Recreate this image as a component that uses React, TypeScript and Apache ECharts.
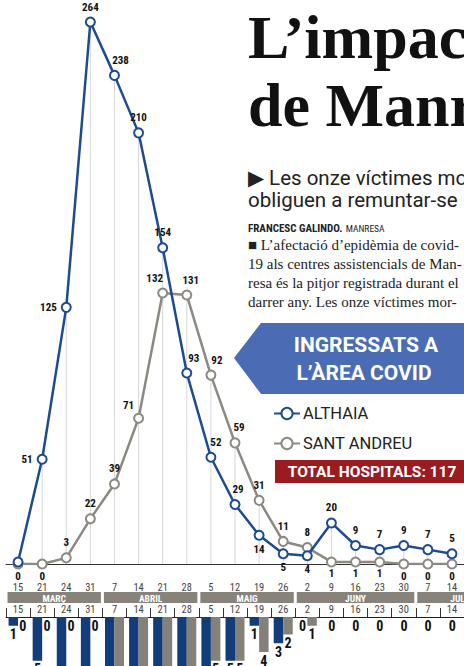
import React, { useEffect, useRef } from "react";
import * as echarts from "echarts";

const dates = ["15", "21", "24", "31", "7", "14", "21", "28", "5", "12", "19", "26", "2", "9", "16", "23", "30", "7", "14"];
const althaia = [1, 51, 125, 264, 238, 210, 154, 93, 52, 29, 14, 5, 4, 20, 9, 7, 9, 7, 5];
const santAndreu = [0, 0, 3, 22, 39, 71, 132, 131, 92, 59, 31, 11, 8, 1, 1, 1, 0, 0, 0];
const weeklyAlthaia = [1, 5, 8, 10, 13, 12, 10, 9, 7, 5, 1, 3, 0, 0, 0, 0, 0, 0, 0];
const weeklySantAndreu = [0, 0, 0, 0, 9, 10, 9, 8, 5, 5, 4, 2, 1, 0, 0, 0, 0, 0, 0];
const months = ["MARÇ", "ABRIL", "MAIG", "JUNY", "JULIOL"];
const monthStart = [0, 4, 8, 12, 17];
const monthWeeks = [4, 4, 4, 5, 4];

// label placement (style only)
const althaiaLabelPos = ["none", "left", "left", "top", "top", "top", "top", "top", "top", "top", "bottom", "bottom", "bottom", "top", "top", "top", "top", "top", "top"];
const althaiaLabelOffset: number[][] = [[0, 0], [0, 0], [0, 0], [0, 0], [6, 0], [0, 0], [0, 0], [7, 0], [5, 0], [3, 0], [0, 0], [0, 0], [0, 0], [0, 0], [0, 0], [0, 0], [0, 0], [0, 0], [0, 0]];
const santLabelPos = ["bottom", "bottom", "top", "top", "top", "top", "top", "top", "top", "top", "top", "top", "top", "bottom", "bottom", "bottom", "bottom", "bottom", "bottom"];
const santLabelOffset: number[][] = [[0, 0], [0, 0], [0, 0], [0, 0], [0, 0], [-10, 2], [-8, 0], [4, 0], [6, 0], [4, 0], [0, 0], [0, 0], [0, 0], [0, 0], [0, 0], [0, 0], [0, 0], [0, 0], [0, 0]];

const BLUE = "#1d4b8f";
const GREY = "#8c8983";
const BAR_BLUE = "#123d7a";
const BAR_GREY = "#858179";
const NARROW = "'Liberation Sans Narrow', 'Roboto Condensed', Roboto, sans-serif";
const SERIF = "'Liberation Serif', serif";
const BAR_AXIS_MAX = 5.6;

function staticGraphics(): any[] {
  return [
    { type: "text", left: 248, top: 6, style: { text: "L’impacte", font: "bold 62px " + SERIF, fill: "#111" } },
    { type: "text", left: 248, top: 74, style: { text: "de Manresa", font: "bold 62px " + SERIF, fill: "#111" } },
    { type: "text", left: 248, top: 167, style: { text: "▶ Les onze víctimes mortals", font: "20.5px Roboto, sans-serif", fill: "#222" } },
    { type: "text", left: 248, top: 189, style: { text: "obliguen a remuntar-se", font: "20.5px Roboto, sans-serif", fill: "#222" } },
    {
      type: "text", left: 248, top: 222,
      style: {
        text: "{a|FRANCESC GALINDO.} {b|MANRESA}",
        rich: {
          a: { font: "bold 11px " + NARROW, fill: "#222" },
          b: { font: "9.5px " + NARROW, fill: "#222" },
        },
      },
    },
    { type: "text", left: 248, top: 237, style: { text: "■ L’afectació d’epidèmia de covid-", font: "15px " + SERIF, fill: "#222" } },
    { type: "text", left: 248, top: 256, style: { text: "19 als centres assistencials de Man-", font: "15px " + SERIF, fill: "#222" } },
    { type: "text", left: 248, top: 275, style: { text: "resa és la pitjor registrada durant el", font: "15px " + SERIF, fill: "#222" } },
    { type: "text", left: 248, top: 294, style: { text: "darrer any. Les onze víctimes mor-", font: "15px " + SERIF, fill: "#222" } },
    {
      type: "polygon",
      shape: { points: [[234, 358], [261, 323], [464, 323], [464, 394], [261, 394]] },
      style: { fill: "#4a6cb4" },
    },
    { type: "text", x: 366, y: 345, style: { text: "INGRESSATS A", font: "bold 21px Roboto, sans-serif", fill: "#fff", align: "center", verticalAlign: "middle" } },
    { type: "text", x: 364, y: 373, style: { text: "L’ÀREA COVID", font: "bold 21px Roboto, sans-serif", fill: "#fff", align: "center", verticalAlign: "middle" } },
    { type: "rect", shape: { x: 275, y: 460, width: 190, height: 23 }, style: { fill: "#9b1c20" } },
    { type: "text", x: 372, y: 472, style: { text: "TOTAL HOSPITALS: 117", font: "bold 15.5px Roboto, sans-serif", fill: "#fff", align: "center", verticalAlign: "middle" } },
  ];
}

export default function App() {
  const ref = useRef<HTMLDivElement>(null);
  useEffect(() => {
    const el = ref.current!;
    const chart = echarts.init(el, null, { renderer: "svg" });

    const drop = althaia.map((v, i) => Math.max(v, santAndreu[i]));
    const valueLabel = { fontFamily: NARROW, fontWeight: "bold", fontSize: 11, lineHeight: 11, color: "#111" };

    const althaiaData = althaia.map((v, i) => ({
      value: v,
      label: althaiaLabelPos[i] === "none"
        ? { show: false }
        : { show: true, position: althaiaLabelPos[i], offset: althaiaLabelOffset[i], distance: althaiaLabelPos[i] === "bottom" ? 3 : 4, ...valueLabel },
    }));
    const santData = santAndreu.map((v, i) => ({
      value: v,
      label: { show: true, position: santLabelPos[i], offset: santLabelOffset[i], distance: santLabelPos[i] === "bottom" ? 1 : 4, ...valueLabel },
    }));
    const barLabel = { show: true, position: "bottom", distance: 2, fontFamily: NARROW, fontWeight: "bold", fontSize: 14, lineHeight: 13, color: "#111" };
    const wA = weeklyAlthaia.map((v, i) => ({
      value: v,
      label: v > BAR_AXIS_MAX ? { show: false } : i >= 13 ? { ...barLabel, offset: [5, 0] } : barLabel,
    }));
    const wS = weeklySantAndreu.map((v, i) => ({
      value: v,
      label: v > BAR_AXIS_MAX || i >= 13 ? { show: false } : barLabel,
    }));

    const option: any = {
      animation: false,
      textStyle: { fontFamily: "Roboto, sans-serif" },
      grid: [
        { left: 6, right: -2, top: 22, height: 542 },
        { left: 6, right: -2, top: 617, height: 49 },
      ],
      xAxis: [
        {
          type: "category", gridIndex: 0, data: dates, boundaryGap: true,
          axisLine: { lineStyle: { color: "#333", width: 1 } },
          axisTick: { show: false },
          axisLabel: { interval: 0, margin: 18.5, fontSize: 10.5, lineHeight: 10, color: "#444", fontFamily: NARROW },
        },
        {
          type: "category", gridIndex: 1, data: dates, position: "top", boundaryGap: true,
          axisLine: { lineStyle: { color: "#222", width: 1 } },
          axisTick: { show: true, interval: 0, length: 9, lineStyle: { color: "#333" } },
          axisLabel: { interval: 0, margin: 3, fontSize: 10.5, lineHeight: 10, color: "#444", fontFamily: NARROW },
        },
      ],
      yAxis: [
        { type: "value", gridIndex: 0, min: 0, max: 264, show: false },
        { type: "value", gridIndex: 1, min: 0, max: BAR_AXIS_MAX, inverse: true, show: false },
      ],
      legend: {
        data: ["ALTHAIA", "SANT ANDREU"],
        orient: "vertical", left: 273, top: 405, padding: 0,
        itemWidth: 26, itemHeight: 14, itemGap: 13,
        textStyle: { fontSize: 16.5, color: "#222", fontFamily: "Roboto, sans-serif", lineHeight: 16, padding: [0, 0, 0, -2] },
      },
      series: [
        {
          type: "bar", name: "guides", xAxisIndex: 0, yAxisIndex: 0, data: drop,
          barWidth: 1, itemStyle: { color: "#d6d6d6" }, silent: true, z: 1,
        },
        {
          type: "line", name: "SANT ANDREU", xAxisIndex: 0, yAxisIndex: 0, data: santData,
          symbol: "emptyCircle", symbolSize: 9,
          lineStyle: { color: GREY, width: 2.5 }, itemStyle: { color: GREY, borderWidth: 2 }, z: 2,
        },
        {
          type: "line", name: "ALTHAIA", xAxisIndex: 0, yAxisIndex: 0, data: althaiaData,
          symbol: "emptyCircle", symbolSize: 9,
          lineStyle: { color: BLUE, width: 2.5 }, itemStyle: { color: BLUE, borderWidth: 2 }, z: 3,
        },
        {
          type: "bar", name: "w1", xAxisIndex: 1, yAxisIndex: 1, data: wA, clip: true,
          barWidth: 9.5, barGap: "0%", itemStyle: { color: BAR_BLUE },
        },
        {
          type: "bar", name: "w2", xAxisIndex: 1, yAxisIndex: 1, data: wS, clip: true,
          barWidth: 9.5, barGap: "0%", itemStyle: { color: BAR_GREY },
        },
      ],
      graphic: staticGraphics(),
    };
    chart.setOption(option);

    const px = (i: number) => chart.convertToPixel({ xAxisIndex: 0 }, i) as number;
    const step = px(1) - px(0);
    const bands: any[] = [];
    months.forEach((m, k) => {
      const first = monthStart[k];
      const x0 = px(first) - step / 2 + 1.5;
      const x1 = px(first) + (monthWeeks[k] - 1) * step + step / 2 - 1.5;
      bands.push({ type: "rect", shape: { x: x0, y: 592, width: x1 - x0, height: 11 }, style: { fill: "#87837b" } });
      bands.push({
        type: "text", x: (x0 + x1) / 2, y: 598,
        style: { text: m, font: "bold 9.5px " + NARROW, fill: "#fff", align: "center", verticalAlign: "middle" },
      });
    });
    chart.setOption({ graphic: [...staticGraphics(), ...bands] });

    return () => chart.dispose();
  }, []);
  return <div ref={ref} style={{ position: "absolute", left: 0, top: 0, width: 464, height: 666 }} />;
}
